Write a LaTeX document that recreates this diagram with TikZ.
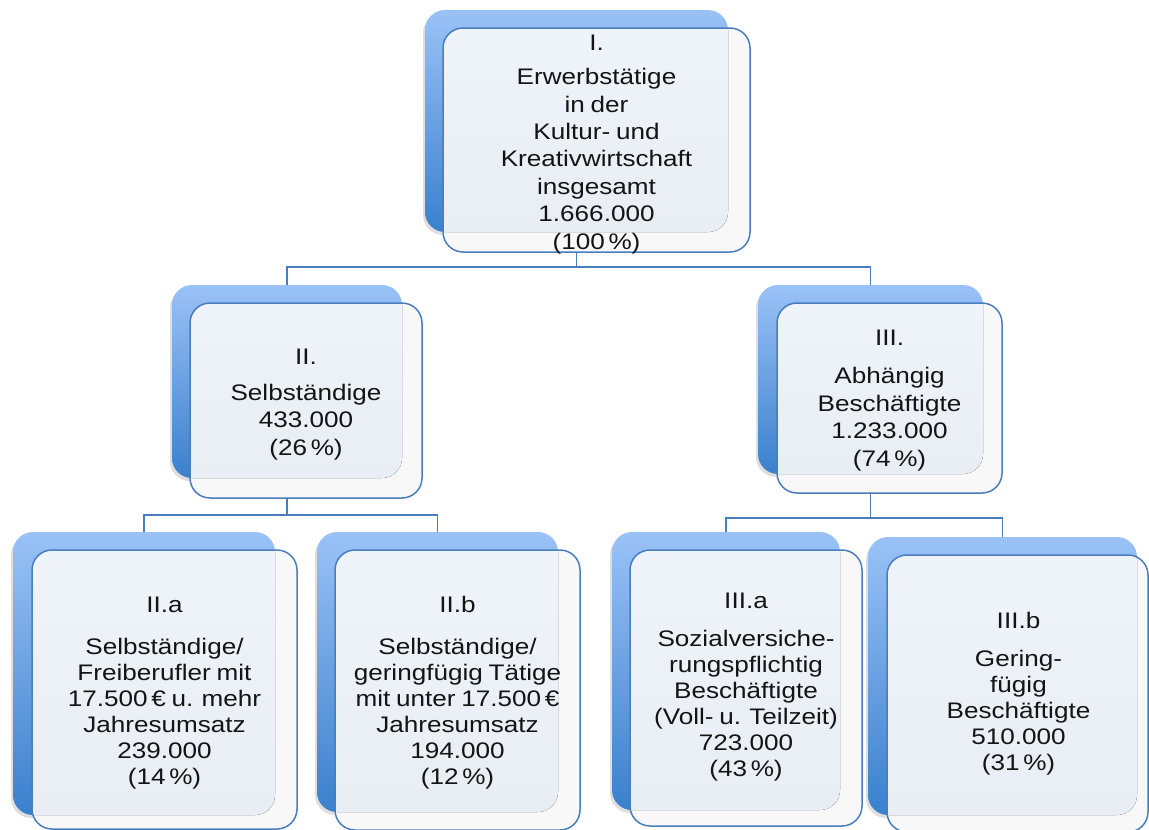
\documentclass[tikz,border=0pt]{standalone}
\usepackage{fontspec}
\setmainfont{Liberation Sans}[FakeStretch=1.16, WordSpace=0.8]
\definecolor{backtop}{HTML}{9AC2F7}
\definecolor{backbot}{HTML}{3A80CD}
\definecolor{edgeblue}{HTML}{4A7EBB}
\definecolor{frontfill}{HTML}{F8F8F9}
\definecolor{tinttop}{HTML}{F0F4FB}
\definecolor{tintbot}{HTML}{E8EEF4}
\newcommand\tintpanel[2]{%
  \begin{scope}
    \clip[rounded corners=20pt] (#2.north west) rectangle (#2.south east);
    \fill[rounded corners=20pt, top color=tinttop, bottom color=tintbot] (#1.north west) rectangle (#1.south east);
  \end{scope}
  \draw[frontedge] (#2.north west) rectangle (#2.south east);}
\begin{document}
\begin{tikzpicture}[x=1pt,y=-1pt,
  backbox/.style={rectangle, rounded corners=20pt, top color=backtop, bottom color=backbot, draw=none, anchor=north west, inner sep=0pt, outer sep=0pt},
  shadowbox/.style={rectangle, rounded corners=20pt, fill=black, fill opacity=0.13, draw=none, anchor=north west, inner sep=0pt, outer sep=0pt},
  frontbox/.style={rectangle, rounded corners=20pt, draw=none, fill=frontfill, anchor=north west, inner sep=0pt, outer sep=0pt},
  frontedge/.style={draw=edgeblue, line width=1.5pt, rounded corners=20pt},
  boxtext/.style={anchor=north, inner sep=0pt, align=center, text=black!92},
  toptier/.style={font=\fontsize{22.5}{27.4}\selectfont},
  lowtier/.style={font=\fontsize{22.5}{26}\selectfont},
  conn/.style={draw=edgeblue, line width=1.9pt}
]
\path[use as bounding box] (0,0) rectangle (1149,830);
\clip (0,0) rectangle (1149,830);

% junction coordinates
\coordinate (jI) at (576.5,267);
\coordinate (jII) at (287,515);
\coordinate (jIII) at (870.5,518);

% back boxes (with soft shadows)
\node[shadowbox, minimum width=303pt, minimum height=222pt] (Ishadow) at (423,13) {};
\node[backbox, minimum width=303pt, minimum height=222pt] (Iback) at (425,10) {};
\node[shadowbox, minimum width=230pt, minimum height=193pt] (IIshadow) at (170,288) {};
\node[backbox, minimum width=230pt, minimum height=193pt] (IIback) at (172,285) {};
\node[shadowbox, minimum width=225pt, minimum height=189pt] (IIIshadow) at (756,288) {};
\node[backbox, minimum width=225pt, minimum height=189pt] (IIIback) at (758,285) {};
\node[shadowbox, minimum width=262pt, minimum height=283pt] (IIashadow) at (11,535) {};
\node[backbox, minimum width=262pt, minimum height=283pt] (IIaback) at (13,532) {};
\node[shadowbox, minimum width=241pt, minimum height=280pt] (IIbshadow) at (315,535) {};
\node[backbox, minimum width=241pt, minimum height=280pt] (IIbback) at (317,532) {};
\node[shadowbox, minimum width=228pt, minimum height=278pt] (IIIashadow) at (610,535) {};
\node[backbox, minimum width=228pt, minimum height=278pt] (IIIaback) at (612,532) {};
\node[shadowbox, minimum width=269pt, minimum height=278pt] (IIIbshadow) at (866,540) {};
\node[backbox, minimum width=269pt, minimum height=278pt] (IIIbback) at (868,537) {};

% connectors
\draw[conn] (Iback.south) -- (jI);
\draw[conn] (IIback.north) |- (jI) -| (IIIback.north);
\draw[conn] (IIback.south) -- (jII);
\draw[conn] (IIaback.north) |- (jII) -| (IIbback.north);
\draw[conn] (IIIback.south) -- (jIII);
\draw[conn] (IIIaback.north) |- (jIII) -| (IIIbback.north);

% front boxes
\node[frontbox, minimum width=307pt, minimum height=224pt] (Ifront) at (443,28) {};
\tintpanel{Iback}{Ifront}
\node[frontbox, minimum width=232pt, minimum height=195pt] (IIfront) at (190,303) {};
\tintpanel{IIback}{IIfront}
\node[frontbox, minimum width=225pt, minimum height=190pt] (IIIfront) at (777,303) {};
\tintpanel{IIIback}{IIIfront}
\node[frontbox, minimum width=265pt, minimum height=279pt] (IIafront) at (32,550) {};
\tintpanel{IIaback}{IIafront}
\node[frontbox, minimum width=245pt, minimum height=280pt] (IIbfront) at (335,550) {};
\tintpanel{IIbback}{IIbfront}
\node[frontbox, minimum width=232pt, minimum height=276pt] (IIIafront) at (630,550) {};
\tintpanel{IIIaback}{IIIafront}
\node[frontbox, minimum width=261pt, minimum height=277pt] (IIIbfront) at (887,555) {};
\tintpanel{IIIbback}{IIIbfront}

% texts
\node[boxtext, toptier] (Itext) at (596.5,31.2)
  {\strut I.\\[6.7pt] Erwerbstätige\\ in der\\ Kultur- und\\ Kreativwirtschaft\\ insgesamt\\ 1.666.000\\ (100\,\%)};
\node[boxtext, toptier] (IItext) at (306,345.2)
  {\strut II.\\[8.5pt] Selbständige\\ 433.000\\ (26\,\%)};
\node[boxtext, toptier] (IIItext) at (889.5,326.2)
  {\strut III.\\[11pt] Abhängig\\ Beschäftigte\\ 1.233.000\\ (74\,\%)};
\node[boxtext, lowtier] (IIatext) at (164.5,594.2)
  {\strut II.a\\[16pt] Selbständige/\\ Freiberufler mit\\ 17.500\,€ u. mehr\\ Jahresumsatz\\ 239.000\\ (14\,\%)};
\node[boxtext, lowtier] (IIbtext) at (457.5,594.2)
  {\strut II.b\\[16pt] Selbständige/\\ geringfügig Tätige\\ mit unter 17.500\,€\\ Jahresumsatz\\ 194.000\\ (12\,\%)};
\node[boxtext, lowtier] (IIIatext) at (746,590.2)
  {\strut III.a\\[12pt] Sozialversiche-\\ rungspflichtig\\ Beschäftigte\\ (Voll- u. Teilzeit)\\ 723.000\\ (43\,\%)};
\node[boxtext, lowtier] (IIIbtext) at (1018.5,610.2)
  {\strut III.b\\[12pt] Gering-\\ fügig\\ Beschäftigte\\ 510.000\\ (31\,\%)};
\end{tikzpicture}
\end{document}
